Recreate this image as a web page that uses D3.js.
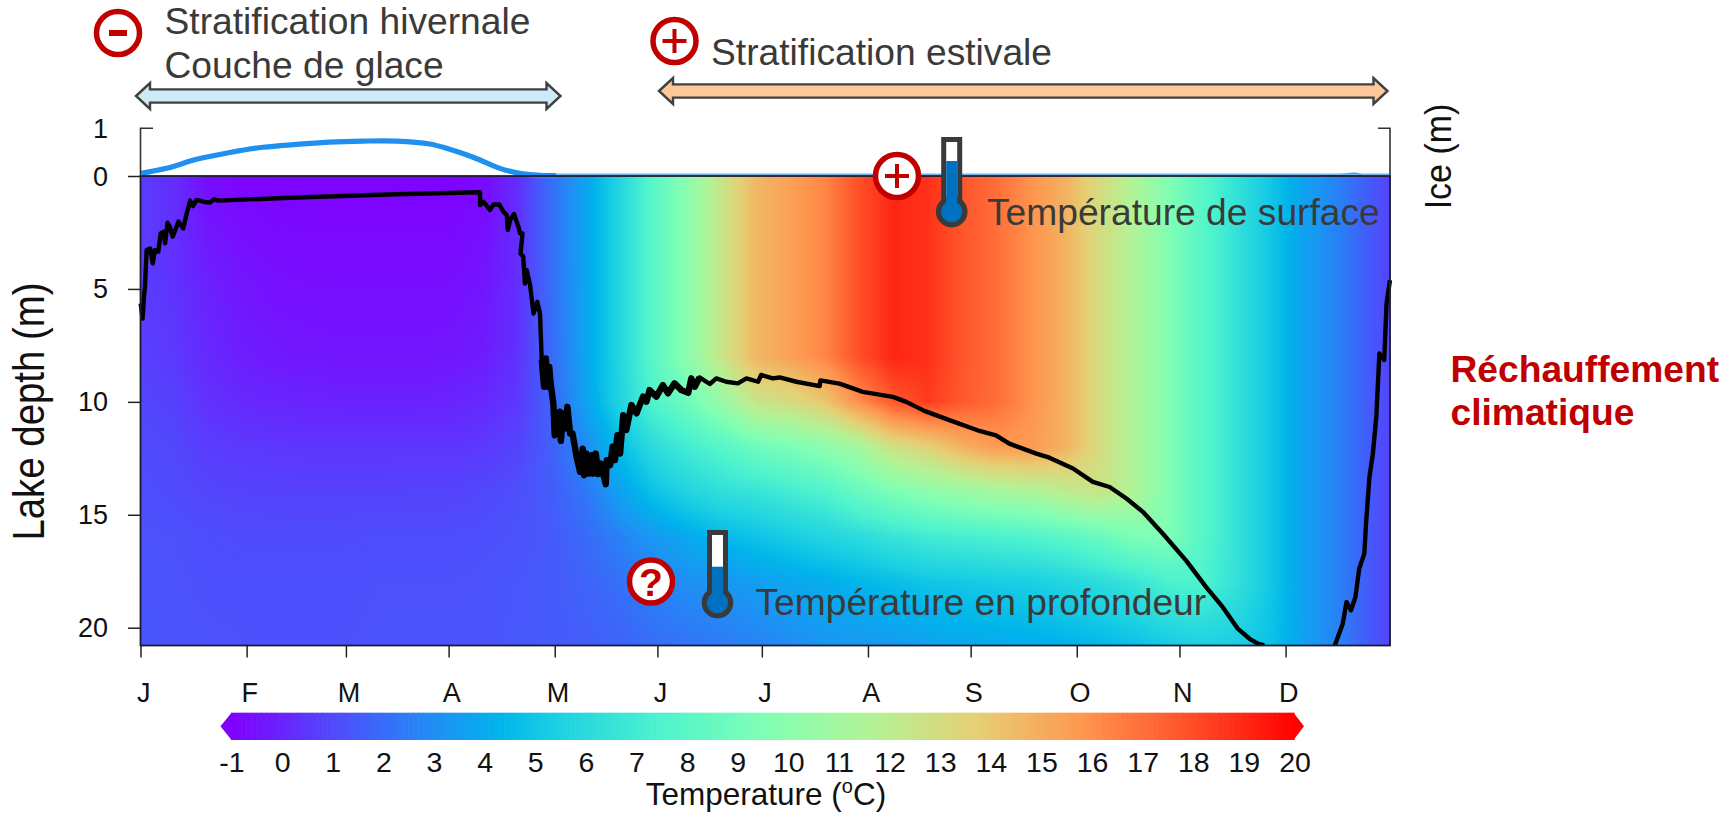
<!DOCTYPE html>
<html><head><meta charset="utf-8">
<style>html,body{margin:0;padding:0;background:#fff;overflow:hidden}svg{display:block}text{font-family:"Liberation Sans",Arial,sans-serif}</style>
<script src="https://cdnjs.cloudflare.com/ajax/libs/d3/7.8.5/d3.min.js"></script>
</head><body><svg id="c" width="1733" height="813"></svg>
<script>
// ---- data ----
const monthLabels=["J","F","M","A","M","J","J","A","S","O","N","D"];
const monthStartDay=[0,31,60,90,121,151,181.5,212.5,242.5,273.5,303.5,334.5];
const depthTicks=[0,5,10,15,20];
const iceTicks=[0,1];
const tempTicks=d3.range(-1,21);
const gridDays=[0,10,20,30,40,50,60,70,80,90,100,110,120,130,140,150,160,170,180,190,200,210,220,230,240,250,260,270,280,290,300,310,320,330,340,350,360,365];
const gridDepths=[0,4,8,10,12,14,16,18,20.8];
const temp0m=[.6,.2,-.7,-.9,-.95,-.95,-.95,-.95,-.95,-.95,-.8,.2,2,3.7,5.7,8,10,12.5,14.6,15.4,16.3,17.9,19,18.7,17.7,17,15.9,14.8,13,11.5,9.6,7.9,6.4,5,3.6,2.6,1.3,.8];
const temp4m=[.6,.3,-.2,-.5,-.65,-.7,-.7,-.7,-.7,-.7,-.5,.2,2,3.7,5.7,8,10,12.5,14.6,15.4,16.3,17.9,19,18.7,17.7,17,15.9,14.8,13,11.5,9.6,7.9,6.4,5,3.6,2.6,1.3,.8];
const temp8m=[.7,.5,.1,-.2,-.35,-.4,-.45,-.45,-.45,-.4,-.25,.3,1.9,3.7,5.7,8,10,12.5,14.6,15.4,16.3,17.9,19,18.7,17.7,17,15.9,14.8,13,11.5,9.6,7.9,6.4,5,3.6,2.6,1.3,.8];
const temp10m=[.9,.7,.3,.1,0,-.05,-.1,-.1,-.1,-.05,.1,.5,1.7,3.6,5.6,7.6,8.8,10.5,12.5,13,14,16,17.6,18.4,17.6,17,15.9,14.8,13,11.5,9.6,7.9,6.4,5,3.6,2.6,1.3,.8];
const temp12m=[1,.9,.6,.5,.45,.4,.4,.4,.4,.4,.5,.8,1.6,2.9,4.6,6,7,7.8,8.8,9.3,10,11,12.8,13.5,14.8,15.6,15.6,14.8,13,11.5,9.6,7.9,6.4,5,3.6,2.6,1.3,.8];
const temp14m=[1.1,1,.85,.8,.75,.75,.75,.75,.8,.8,.9,1.1,1.5,2.3,3.6,4.8,5.6,6.2,6.5,7,7.5,8.5,9.3,10,10.5,11,11.3,12,12.5,11.5,9.6,7.9,6.4,5,3.6,2.6,1.3,.8];
const temp16m=[1.2,1.15,1.05,1,1,1,1,1.05,1.05,1.05,1.1,1.2,1.4,1.9,2.6,3.3,3.9,4.4,4.8,5.2,5.6,6,6.5,6.9,7.1,7.3,7.5,7.9,8.5,9.3,9.5,7.9,6.4,5,3.6,2.6,1.3,.8];
const temp18m=[1.25,1.2,1.1,1.1,1.1,1.1,1.1,1.15,1.15,1.15,1.2,1.3,1.4,1.7,2.1,2.6,3,3.2,3.5,3.8,4,4.3,4.6,4.9,5,5.2,5.3,5.6,6,6.5,7.3,7.5,6.4,5,3.6,2.6,1.3,.8];
const temp21m=[1.3,1.25,1.2,1.15,1.15,1.15,1.15,1.2,1.2,1.2,1.25,1.35,1.4,1.5,1.7,2,2.2,2.4,2.6,2.9,3.2,3.3,3.4,3.6,3.8,3.9,4,4.2,4.4,4.7,5.1,5.4,5.3,4.8,3.6,2.6,1.3,.8];
const tempRows=[temp0m,temp4m,temp8m,temp10m,temp12m,temp14m,temp16m,temp18m,temp21m];
const iceDay=[0.2,7.6,16.4,26.1,35.8,45.6,55.3,65,74.8,84.5,89.4,97.2,105,110.8,116.6,121.5];
const iceThickness=[.05,.156,.346,.49,.6,.66,.71,.73,.73,.67,.58,.39,.155,.05,.01,0];
const iceLateDay=[345,351,354.7,357];
const iceLateThickness=[0,.01,.035,0];
const thermoDay=[0.05,.6,1,1.3,1.8,2.8,3.6,4.2,5.2,5.9,6.7,7.2,7.9,8.6,9.4,11.1,12.5,13.5,14.5,15.4,16.4,18.4,20.3,21.5,22.7,45.6,74.8,99.2,99.2,100.2,102.1,103.1,104.8,106,107,107.3,108,109.1,110.4,110.9,111.6,111,111.8,112.3,112.8,113.8,114.8,115.9,116.7,117.2,117.9,118.4,119,119.4,119.8,120.6,121,121.6,122,122.5,122.8,123.5,124,124.7,125.5,126.2,127.4,128.4,129.2,129.6,130.3,131.1,131.8,132.3,133,133.7,134.5,135.9,136.2,137.2,137.9,138.6,139.3,140.1,141,141.9,143.4,144.9,146.8,147.8,148.7,150.7,152.6,154.1,156,158,160,160.9,161.9,163.3,166.3,168.2,171.1,174.5,177,180.4,181.3,184.7,186.7,191.6,198.4,198.6,204.2,211,219.8,223.7,229,236.3,245.1,249.9,253.8,261.7,265.5,272.4,278.2,283.1,288,292.8,298.6,305.4,311.3,316.1,320.5,324,326.4,328.3,330,347,348.7,351.2,352.3,353.6,354.9,356,357.5,358,359,360,361,361.9,363.3,364,365];
const thermoDepth=[5.64,6.31,5.35,4.9,3.28,3.21,3.87,3.28,3.35,2.54,2.47,2.98,2.07,2.25,2.69,2.02,2.32,1.65,1.09,1.33,1.06,1.14,1.18,1.03,1.09,.95,.81,.72,1.29,1.14,1.51,1.26,1.26,1.58,1.73,2.39,1.95,1.68,2.25,2.54,2.54,3.43,3.57,4.76,4.17,4.83,6.09,5.57,6.09,8.15,9.33,8.08,9.33,8.45,9.19,10.07,11.48,10.52,11.4,10.44,11.73,10.52,11.18,10.22,11.4,11.4,12.44,13.1,12.07,13.25,12.29,13.18,12.36,13.18,12.29,13.2,12.73,13.65,12.58,12.8,11.99,12.58,11.48,12.29,10.59,11.25,10.14,10.51,9.77,9.99,9.48,9.77,9.26,9.62,9.18,9.48,9.6,8.96,9.33,8.92,9.21,8.96,9.11,9.18,8.96,9.11,8.81,8.96,8.92,9.11,9.3,9.05,9.19,9.56,9.78,10,10.4,10.81,11.29,11.48,11.85,12.29,12.47,12.95,13.54,13.77,14.28,14.87,15.83,17.02,18.2,19.08,20.04,20.49,20.71,20.78,null,null,20.86,19.82,18.86,19.23,18.64,17.39,16.72,15.39,13.32,12.29,10.66,7.86,8.15,5.64,4.61];
const colourStopTemps=[-1,1.1,3.2,4.25,5.3,7.4,9.5,11.6,13.7,15.8,17.9,20];
const colourStops=["#8000ff","#4d4ffc","#1a96f3","#00b4eb","#1acfe3","#4df3ce","#80ffb4","#b3f396","#e6cf74","#ff964f","#ff4f28","#ff0000"];

// ---- scales ----
const svg=d3.select("#c");
const x=d3.scaleLinear().domain([0,365]).range([140.5,1390]);
const y=d3.scaleLinear().domain([0,20]).range([176,627.7]);
const yIce=d3.scaleLinear().domain([0,1]).range([175.7,128.3]);
const xBar=d3.scaleLinear().domain([-1,20]).range([231,1294]);
const colour=d3.scaleLinear().domain(colourStopTemps).range(colourStops).clamp(true);
const plotBottom=645.5, TXT="#3a3a3a", RED="#c00000", INK="#111";

// ---- heat map ----
function tempAt(day,depth){
  let j=Math.min(d3.bisectRight(gridDays,day),gridDays.length-1), i=Math.min(d3.bisectRight(gridDepths,depth),gridDepths.length-1);
  const d0=gridDays[j-1],d1=gridDays[j],z0=gridDepths[i-1],z1=gridDepths[i];
  const u=(day-d0)/(d1-d0), v=(depth-z0)/(z1-z0);
  const a=tempRows[i-1][j-1]*(1-u)+tempRows[i-1][j]*u, b=tempRows[i][j-1]*(1-u)+tempRows[i][j]*u;
  return a*(1-v)+b*v;
}
const W=Math.round(x.range()[1]-x.range()[0]), H=Math.round(plotBottom-176);
const cv=document.createElement("canvas"); cv.width=W; cv.height=H;
const ctx=cv.getContext("2d"), img=ctx.createImageData(W,H);
for(let py=0;py<H;py++){const depth=Math.min(20.8,y.invert(176+py+.5));
  for(let px=0;px<W;px++){const day=Math.min(365,x.invert(140.5+px+.5));
    const c=d3.rgb(colour(tempAt(day,depth))), k=(py*W+px)*4;
    img.data[k]=c.r;img.data[k+1]=c.g;img.data[k+2]=c.b;img.data[k+3]=255;}}
ctx.putImageData(img,0,0);
svg.append("image").attr("x",140.5).attr("y",176).attr("width",W).attr("height",H).attr("href",cv.toDataURL());

// ---- ice & thermocline ----
svg.append("defs").append("clipPath").attr("id","pc").append("rect").attr("x",136).attr("y",176).attr("width",1258).attr("height",470);
const iceLine=d3.line().curve(d3.curveCatmullRom.alpha(.5));
svg.append("path").attr("fill","none").attr("stroke","#2090f0").attr("stroke-width",5.2)
  .attr("d",iceLine(iceDay.map((d,i)=>[x(d),yIce(iceThickness[i])])));
svg.append("path").attr("fill","none").attr("stroke","#2090f0").attr("stroke-width",3)
  .attr("d",iceLine(iceLateDay.map((d,i)=>[x(d),yIce(iceLateThickness[i])])));
svg.append("path").attr("fill","none").attr("stroke","#6fb4ea").attr("stroke-width",1.6)
  .attr("d",d3.line()([[x(iceDay[iceDay.length-1]),174.4],[x(365),174.4]]));
const thermoLine=d3.line().defined((d,i)=>thermoDepth[i]!==null).x((d,i)=>x(thermoDay[i])).y((d,i)=>y(thermoDepth[i]));
svg.append("path").attr("clip-path","url(#pc)").attr("fill","none").attr("stroke","#000").attr("stroke-width",4.4).attr("stroke-linejoin","round").attr("d",thermoLine(thermoDay));
// the noisy early-stratification stretch reads as a thicker band in the reference
const noisy=thermoDay.map((d,i)=>[d,thermoDepth[i]]).filter(p=>p[0]>=117&&p[0]<=166);
svg.append("path").attr("fill","none").attr("stroke","#000").attr("stroke-width",6.4).attr("stroke-linejoin","round")
  .attr("d",d3.line().x(p=>x(p[0])).y(p=>y(p[1]))(noisy));

// ---- frame & axes ----
const AX="#1c1c30";
svg.append("rect").attr("x",140.5).attr("y",176).attr("width",1249.5).attr("height",469.5).attr("fill","none").attr("stroke",AX).attr("stroke-width",1.8);
svg.append("path").attr("fill","none").attr("stroke","#333").attr("stroke-width",1.6).attr("d","M153 128.3H140.5V176M1378 128.3H1390V176");
const xAxis=svg.append("g").attr("transform",`translate(0,${plotBottom})`).call(d3.axisBottom(x).tickValues(monthStartDay).tickSize(12).tickPadding(0).tickFormat(""));
xAxis.select(".domain").remove(); xAxis.selectAll("line").attr("stroke","#222").attr("stroke-width",1.5);
svg.append("g").selectAll("text").data(monthLabels).join("text").attr("x",(d,i)=>x(monthStartDay[i])+3.2).attr("y",701.5).attr("text-anchor","middle").attr("font-size",27).attr("fill",INK).text(d=>d);
const yAxis=svg.append("g").attr("transform","translate(140.5,0)").call(d3.axisLeft(y).tickValues(depthTicks).tickSize(12.5).tickFormat(""));
yAxis.select(".domain").remove(); yAxis.selectAll("line").attr("stroke","#222").attr("stroke-width",1.5);
svg.append("g").selectAll("text").data(depthTicks).join("text").attr("x",108).attr("y",d=>y(d)+9.5).attr("text-anchor","end").attr("font-size",27).attr("fill",INK).text(d=>d);
svg.append("text").attr("x",108).attr("y",yIce(1)+1).attr("dy",9).attr("text-anchor","end").attr("font-size",27).attr("fill",INK).text(iceTicks[1]);
svg.append("text").attr("transform","translate(43.5,411.5) rotate(-90) scale(1,1.14)").attr("text-anchor","middle").attr("font-size",38.4).attr("fill",INK).text("Lake depth (m)");
svg.append("text").attr("transform","translate(1450.5,156.5) rotate(-90) scale(1,1.1)").attr("text-anchor","middle").attr("font-size",34).attr("fill",INK).text("Ice (m)");

// ---- colour bar ----
const barTop=712.7, barH=27.3;
const steps=d3.range(-1,19.95,.1);
svg.append("g").selectAll("rect").data(steps).join("rect").attr("x",d=>xBar(d)).attr("y",barTop).attr("width",xBar(.1)-xBar(0)+.6).attr("height",barH).attr("fill",d=>colour(d));
svg.append("path").attr("fill",colour(-1)).attr("d",`M${xBar(-1)+.5} ${barTop}L220.5 ${barTop+barH/2}L${xBar(-1)+.5} ${barTop+barH}Z`);
svg.append("path").attr("fill",colour(20)).attr("d",`M${xBar(20)-.5} ${barTop}L1304 ${barTop+barH/2}L${xBar(20)-.5} ${barTop+barH}Z`);
svg.append("g").selectAll("text").data(tempTicks).join("text").attr("x",d=>xBar(d)+1).attr("y",772).attr("text-anchor","middle").attr("font-size",28.5).attr("fill",INK).text(d=>d);
const tl=svg.append("text").attr("x",766).attr("y",805).attr("text-anchor","middle").attr("font-size",31.5).attr("fill",INK);
tl.append("tspan").text("Temperature (");
tl.append("tspan").attr("font-size",20).attr("dy",-12).text("o");
tl.append("tspan").attr("dy",12).text("C)");

// ---- annotations ----
function txt(s,xx,yy,o={}){return svg.append("text").attr("x",xx).attr("y",yy).attr("font-size",37.2).attr("fill",o.fill||TXT).attr("font-weight",o.bold?"bold":null).text(s);}
txt("Stratification hivernale",164.5,33.5);
txt("Couche de glace",164.5,78);
txt("Stratification estivale",711,65);
txt("Température de surface",987,225);
txt("Température en profondeur",755.5,615);
txt("Réchauffement",1450.5,382,{fill:RED,bold:true});
txt("climatique",1450.5,425,{fill:RED,bold:true});

function dblArrow(x0,x1,cy,fill){
  const hl=14,hh=13,sh=6.6;
  svg.append("path").attr("fill",fill).attr("stroke","#404040").attr("stroke-width",2.4).attr("stroke-linejoin","miter")
    .attr("d",`M${x0} ${cy}L${x0+hl} ${cy-hh}V${cy-sh}H${x1-hl}V${cy-hh}L${x1} ${cy}L${x1-hl} ${cy+hh}V${cy+sh}H${x0+hl}V${cy+hh}Z`);
}
dblArrow(136,560.5,96,"#cdeaf6");
dblArrow(659,1387.5,91,"#fdc998");

function badge(cx,cy,kind){
  svg.append("circle").attr("cx",cx).attr("cy",cy).attr("r",21.5).attr("fill","#fff").attr("stroke",RED).attr("stroke-width",5.5);
  if(kind==="-") svg.append("rect").attr("x",cx-9).attr("y",cy-3).attr("width",18).attr("height",6).attr("fill",RED);
  if(kind==="+") svg.append("path").attr("stroke",RED).attr("stroke-width",4).attr("fill","none").attr("d",`M${cx-12} ${cy}H${cx+12}M${cx} ${cy-12}V${cy+12}`);
  if(kind==="?") svg.append("text").attr("x",cx).attr("y",cy+14).attr("text-anchor","middle").attr("font-size",39).attr("font-weight","bold").attr("fill",RED).text("?");
}
badge(118,33,"-"); badge(674.5,41,"+"); badge(897,176,"+"); badge(651,581.5,"?");

function thermo(cx,top,bulbY,level){
  const g=svg.append("g");
  g.append("rect").attr("x",cx-8).attr("y",top+2.5).attr("width",16).attr("height",bulbY-top-3).attr("fill","#fff").attr("stroke","#3a3a3a").attr("stroke-width",5);
  g.append("circle").attr("cx",cx).attr("cy",bulbY).attr("r",13.2).attr("fill","#0070c0").attr("stroke","#3a3a3a").attr("stroke-width",5.2);
  g.append("rect").attr("x",cx-5.5).attr("y",level).attr("width",11).attr("height",bulbY-level).attr("fill","#0070c0");
}
thermo(951.7,137,211.7,161);
thermo(717.5,530,602.7,566.7);
</script></body></html>
